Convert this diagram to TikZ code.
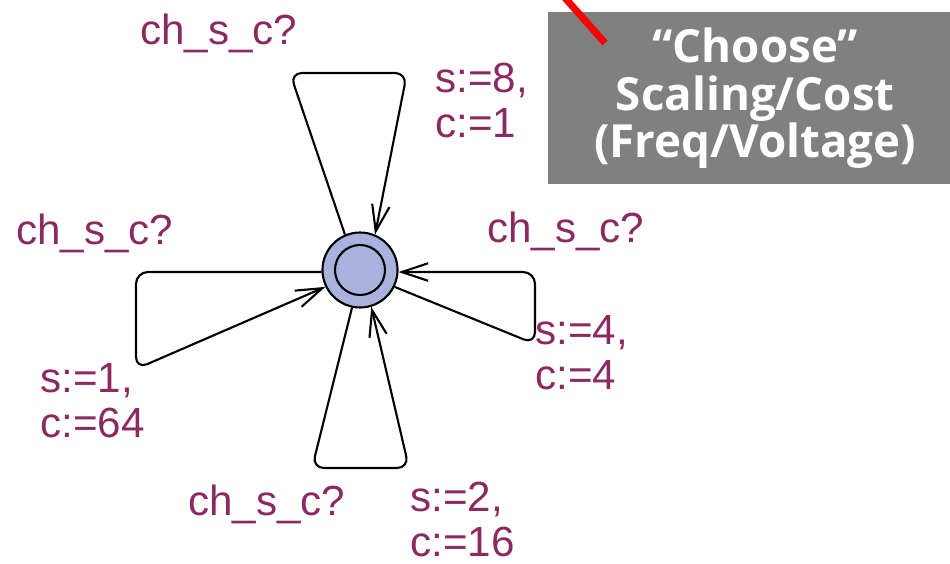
\documentclass[tikz,border=0pt]{standalone}
\usepackage{fontspec}
\setmainfont{Liberation Sans}
\newfontfamily\notefont{Open Sans}
\usepackage{tikz}
\usetikzlibrary{
  arrows.meta
}
\definecolor{LocBlue}{RGB}{168,178,220}
\definecolor{LabelPlum}{RGB}{139,41,97}
\definecolor{NoteGray}{RGB}{128,128,128}
\newcommand{\lblfont}{\fontsize{24}{25.5}\selectfont}
\tikzset{
  %%── 状态（双圈） ───────────────────────────────────────────
  loc/.style = {
    circle, draw = black, fill = LocBlue,
    line width = 1.2pt, minimum size = 1.5cm, inner sep = 0pt,
    path picture = {
      \draw[line width = 1.2pt] (path picture bounding box.center) circle (0.5cm);
    }
  },
  %%── 边上的标签 ─────────────────────────────────────────────
  guard/.style = {
    inner sep = 0pt, anchor = base west,
    text = LabelPlum, font = \lblfont
  },
  upd/.style = {
    inner sep = 0pt, anchor = north west, align = left,
    text = LabelPlum, font = \lblfont
  },
  %%── 灰色说明框 ─────────────────────────────────────────────
  note/.style = {
    rectangle, fill = NoteGray, text = white, anchor = north west,
    minimum width = 8.28cm, minimum height = 3.44cm,
    align = center, font = \notefont\bfseries\fontsize{26}{27}\selectfont
  },
  %%── 箭头 ───────────────────────────────────────────────────
  arr/.style = {-{Straight Barb[length = 15pt, width = 10pt]},
                line width = 1.2pt, rounded corners = 0.24cm},
  ptr/.style = {draw = red, line width = 4pt},
}

\begin{document}
\begin{tikzpicture}[x = 0.02cm, y = -0.02cm]

  \path[use as bounding box, clip] (0,0) rectangle (950,564);

  \node[loc] (st) at (360,270) {};

  %% 四个自环
  \draw[arr] (st.113) -- (290,73)  -- (407,73)  -- (st.67);
  \draw[arr] (st.183) -- (136,272) -- (136,369) -- (st.206);
  \draw[arr] (st.334) -- (535,344) -- (535,272) -- (st.357);
  \draw[arr] (st.258) -- (312,468) -- (409,468) -- (st.287);

  %% 标签
  \node[guard] (gTop)   at (140,45)  {ch\_s\_c?};
  \node[upd]   (uTop)   at (435,63)  {s:=8,\\c:=1};
  \node[guard] (gLeft)  at (16,245)  {ch\_s\_c?};
  \node[upd]   (uLeft)  at (40,363)  {s:=1,\\c:=64};
  \node[guard] (gRight) at (487,243) {ch\_s\_c?};
  \node[upd]   (uRight) at (535,315) {s:=4,\\c:=4};
  \node[guard] (gBot)   at (188,515) {ch\_s\_c?};
  \node[upd]   (uBot)   at (410,482) {s:=2,\\c:=16};

  %% 说明框与红色指示线
  \node[note] (choose) at (548,12)
    {“Choose”\\Scaling/Cost\\(Freq/Voltage)};
  \coordinate (ptrTail) at (558,-10);
  \coordinate (ptrHead) at (605,43);
  \draw[ptr] (ptrTail) -- (ptrHead);

\end{tikzpicture}
\end{document}
